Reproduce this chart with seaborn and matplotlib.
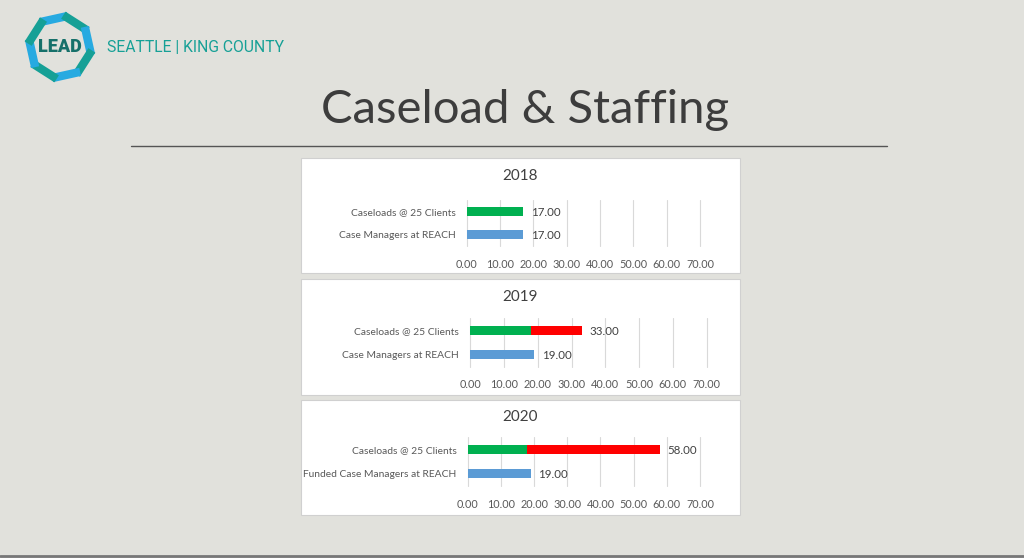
import numpy as np
import pandas as pd
import matplotlib
matplotlib.use('Agg')
import matplotlib.pyplot as plt
import seaborn as sns
from matplotlib.patches import Rectangle

# chart values
years = ['2018', '2019', '2020']
caseload_label = 'Caseloads @ 25 Clients'
manager_labels = ['Case Managers at REACH', 'Case Managers at REACH',
                  'Funded Case Managers at REACH']
funded_caseloads = [17, 18, 18]      # green part
caseload_totals = [17, 33, 58]       # green + red
case_managers = [17, 19, 19]         # blue
x_ticks = [0, 10, 20, 30, 40, 50, 60, 70]

GREEN = '#00b050'
RED = '#ff0000'
BLUE = '#5b9bd5'
BG = '#e1e1dc'
TXT = '#595959'

sns.set_theme(style='white')
plt.rcParams['font.family'] = ['Lato', 'DejaVu Sans']

W, H = 1024, 558
fig = plt.figure(figsize=(W / 100, H / 100), dpi=100, facecolor=BG)


def box(x0, y0, x1, y1):
    # pixel box -> figure fraction rect
    return [x0 / W, 1 - y1 / H, (x1 - x0) / W, (y1 - y0) / H]


# title and rule
fig.text(525 / W, 1 - 110 / H, 'Caseload & Staffing', ha='center', va='center',
         fontsize=34, fontweight='normal', color='#3d3d3d')
fig.add_artist(plt.Line2D([131 / W, 887 / W], [1 - 146 / H, 1 - 146 / H],
                          color='#555555', lw=1))
fig.add_artist(plt.Line2D([0, 1], [1 - 556 / H, 1 - 556 / H], color='#777777', lw=2))

# logo
lax = fig.add_axes(box(15, 3, 105, 91))
lax.set_xlim(-45, 45)
lax.set_ylim(-44, 44)
lax.axis('off')
ang = np.deg2rad(125 - 45 * np.arange(9))
r = 32
for i in range(8):
    c = '#16a096' if i % 2 else '#27aae1'
    a0, a1 = ang[i] + 0.07, ang[i + 1] - 0.07
    lax.plot([r * np.cos(a0), r * np.cos(a1)], [r * np.sin(a0), r * np.sin(a1)],
             color=c, lw=6, solid_capstyle='butt')
lax.text(0, 0, 'LEAD', ha='center', va='center', fontsize=13,
         fontweight='heavy', color='#16706a', family=['Roboto', 'DejaVu Sans'])
fig.text(107 / W, 1 - 48 / H, 'SEATTLE | KING COUNTY', ha='left', va='center',
         fontsize=11.3, fontweight='normal', color='#16a096',
         family=['Roboto', 'DejaVu Sans'])

# three panels: white card, year title, bar chart
panels = [
    dict(card=(301, 158, 740, 273), ax=(466.7, 200, 700, 246), title_y=176),
    dict(card=(301, 279, 740, 395), ax=(470.3, 318, 706.7, 367), title_y=297),
    dict(card=(301, 400, 740, 515), ax=(467.7, 437, 700, 486), title_y=417),
]

for i, p in enumerate(panels):
    cx0, cy0, cx1, cy1 = p['card']
    fig.add_artist(Rectangle((cx0 / W, 1 - cy1 / H), (cx1 - cx0) / W, (cy1 - cy0) / H,
                             transform=fig.transFigure, facecolor='white',
                             edgecolor='#d0d0d0', lw=0.8, zorder=-5))
    fig.text((cx0 + cx1) / 2 / W, 1 - p['title_y'] / H, years[i], ha='center',
             va='center', fontsize=11, color='#404040')

    ax = fig.add_axes(box(*p['ax']))
    ax.set_facecolor('none')
    cats = [caseload_label, manager_labels[i]]
    totals = pd.DataFrame({'cat': cats, 'val': [caseload_totals[i], case_managers[i]]})
    sns.barplot(data=totals, x='val', y='cat', hue='cat', order=cats,
                palette=[RED, BLUE], width=0.36, legend=False, ax=ax,
                saturation=1, orient='h', linewidth=0)
    funded = pd.DataFrame({'cat': [caseload_label], 'val': [funded_caseloads[i]]})
    sns.barplot(data=funded, x='val', y='cat', order=cats, color=GREEN,
                width=0.36, ax=ax, saturation=1, orient='h', linewidth=0)

    for j, v in enumerate([caseload_totals[i], case_managers[i]]):
        ax.text(v + 2.3, j, f'{v:.2f}', va='center_baseline', ha='left',
                fontsize=8.3, color='#404040')

    ax.set_xlim(0, 70)
    ax.set_ylim(1.5, -0.5)
    ax.set_xticks(x_ticks)
    ax.set_xticklabels([f'{t:.2f}' for t in x_ticks])
    ax.xaxis.grid(True, color='#d9d9d9', lw=0.8)
    for g in ax.get_xgridlines():
        g.set_clip_on(False)
    ax.set_axisbelow(True)
    ax.tick_params(axis='x', length=0, labelsize=7.8, labelcolor=TXT, pad=9)
    ax.tick_params(axis='y', length=0, labelsize=7.4, labelcolor=TXT, pad=8)
    ax.set_xlabel('')
    ax.set_ylabel('')
    for s in ax.spines.values():
        s.set_visible(False)

fig.savefig('out.png', dpi=100, facecolor=BG)
